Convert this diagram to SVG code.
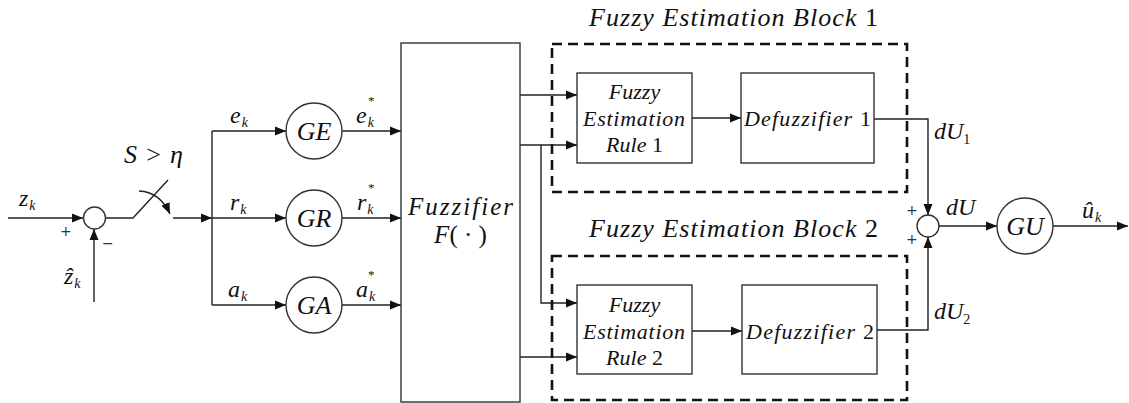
<svg xmlns="http://www.w3.org/2000/svg" width="1129" height="403" viewBox="0 0 1129 403">
<defs>
<marker id="ar" markerUnits="userSpaceOnUse" markerWidth="12" markerHeight="10" refX="11" refY="5" orient="auto">
<path d="M0,0.5 L11,5 L0,9.5 z" fill="#111"/>
</marker>
</defs>
<style>
.ln{fill:none;stroke:#222;stroke-width:1.4}
.bx{fill:#fff;stroke:#333;stroke-width:1.4}
.ds{fill:none;stroke:#111;stroke-width:2.6;stroke-dasharray:10,6}
.t{font-family:"Liberation Serif",serif;font-style:italic;fill:#111}
.u{font-style:normal}
.sub{font-size:14px}
.pm{font-family:"DejaVu Sans",sans-serif;font-size:14px;fill:#333}
</style>
<rect width="1129" height="403" fill="#fff"/>

<g id="connectors">
<path class="ln" d="M8,218 H83" marker-end="url(#ar)"/>
<path class="ln" d="M94,302 V229" marker-end="url(#ar)"/>
<path class="ln" d="M106,218 H133 L168,180"/>
<path class="ln" d="M139,191 Q160,192 170,214" marker-end="url(#ar)"/>
<path class="ln" d="M173,218 H212" marker-end="url(#ar)"/>
<path class="ln" d="M212,131 V305"/>
<path class="ln" d="M212,131 H286" marker-end="url(#ar)"/>
<path class="ln" d="M212,218 H286" marker-end="url(#ar)"/>
<path class="ln" d="M212,305 H286" marker-end="url(#ar)"/>
<path class="ln" d="M342,131 H401" marker-end="url(#ar)"/>
<path class="ln" d="M342,218 H401" marker-end="url(#ar)"/>
<path class="ln" d="M342,305 H401" marker-end="url(#ar)"/>
<path class="ln" d="M520,95 H577" marker-end="url(#ar)"/>
<path class="ln" d="M520,145 H577" marker-end="url(#ar)"/>
<path class="ln" d="M541,145 V303 H577" marker-end="url(#ar)"/>
<path class="ln" d="M520,357 H577" marker-end="url(#ar)"/>
<path class="ln" d="M692,118 H741" marker-end="url(#ar)"/>
<path class="ln" d="M692,331 H742" marker-end="url(#ar)"/>
<path class="ln" d="M874,119 H928 V215" marker-end="url(#ar)"/>
<path class="ln" d="M877,330 H928 V237" marker-end="url(#ar)"/>
<path class="ln" d="M939,226 H997" marker-end="url(#ar)"/>
<path class="ln" d="M1053,226 H1128" marker-end="url(#ar)"/>
</g>

<g id="sum1">
<circle class="bx" cx="94.5" cy="218" r="11"/>
<text class="pm" x="60" y="236">+</text>
<text class="pm" x="102" y="248">−</text>
</g>

<g id="labels-left">
<text class="t" x="19" y="206" font-size="24">z<tspan class="sub" dx="1" dy="4">k</tspan></text>
<text class="t" x="64" y="284" font-size="24">ẑ<tspan class="sub" dx="1" dy="4">k</tspan></text>
<text class="t" x="124" y="163" font-size="26" textLength="59" lengthAdjust="spacing">S <tspan class="u">&gt;</tspan> η</text>
</g>

<g id="GE">
<circle class="bx" cx="314" cy="131" r="28"/>
<text class="t" x="314" y="140" font-size="26" text-anchor="middle">GE</text>
<text class="t" x="230" y="123" font-size="24">e<tspan class="sub" dx="1" dy="4">k</tspan></text>
<text class="t" x="356" y="123" font-size="24">e<tspan class="sub" dx="1" dy="4">k</tspan></text>
<text class="t u" x="368" y="105" font-size="13">*</text>
</g>
<g id="GR">
<circle class="bx" cx="314" cy="218" r="28"/>
<text class="t" x="314" y="227" font-size="26" text-anchor="middle">GR</text>
<text class="t" x="230" y="210" font-size="24">r<tspan class="sub" dx="1" dy="4">k</tspan></text>
<text class="t" x="357" y="210" font-size="24">r<tspan class="sub" dx="1" dy="4">k</tspan></text>
<text class="t u" x="368" y="192" font-size="13">*</text>
</g>
<g id="GA">
<circle class="bx" cx="314" cy="305" r="28"/>
<text class="t" x="314" y="314" font-size="26" text-anchor="middle">GA</text>
<text class="t" x="228" y="297" font-size="24">a<tspan class="sub" dx="1" dy="4">k</tspan></text>
<text class="t" x="356" y="297" font-size="24">a<tspan class="sub" dx="1" dy="4">k</tspan></text>
<text class="t u" x="368" y="279" font-size="13">*</text>
</g>

<g id="fuzzifier">
<rect class="bx" x="401" y="43" width="119" height="359"/>
<text class="t" x="408" y="215" font-size="25" textLength="105" lengthAdjust="spacing">Fuzzifier</text>
<text class="t" x="460.5" y="243" font-size="25" text-anchor="middle">F<tspan class="u">( · )</tspan></text>
</g>

<g id="block1">
<text class="t" x="589" y="26" font-size="26" textLength="289" lengthAdjust="spacing">Fuzzy Estimation Block <tspan class="u">1</tspan></text>
<rect class="ds" x="552" y="44" width="355" height="148"/>
</g>
<g id="rule1">
<rect class="bx" x="577" y="73" width="115" height="90"/>
<text class="t" x="634.5" y="99" font-size="22" text-anchor="middle">Fuzzy</text>
<text class="t" x="583" y="126" font-size="22" textLength="102" lengthAdjust="spacing">Estimation</text>
<text class="t" x="634.5" y="152" font-size="22" text-anchor="middle">Rule <tspan class="u">1</tspan></text>
</g>
<g id="defuzz1">
<rect class="bx" x="741" y="73" width="133" height="90"/>
<text class="t" x="744" y="126" font-size="22" textLength="127" lengthAdjust="spacing">Defuzzifier <tspan class="u">1</tspan></text>
</g>

<g id="block2">
<text class="t" x="589" y="237" font-size="26" textLength="289" lengthAdjust="spacing">Fuzzy Estimation Block <tspan class="u">2</tspan></text>
<rect class="ds" x="552" y="256" width="355" height="144"/>
</g>
<g id="rule2">
<rect class="bx" x="577" y="285" width="115" height="89"/>
<text class="t" x="634.5" y="312" font-size="22" text-anchor="middle">Fuzzy</text>
<text class="t" x="583" y="339" font-size="22" textLength="102" lengthAdjust="spacing">Estimation</text>
<text class="t" x="634.5" y="365" font-size="22" text-anchor="middle">Rule <tspan class="u">2</tspan></text>
</g>
<g id="defuzz2">
<rect class="bx" x="742" y="285" width="135" height="89"/>
<text class="t" x="746" y="339" font-size="22" textLength="128" lengthAdjust="spacing">Defuzzifier <tspan class="u">2</tspan></text>
</g>

<g id="sum2">
<circle class="bx" cx="928" cy="226" r="11"/>
<text class="pm" x="906" y="215">+</text>
<text class="pm" x="906" y="244">+</text>
<text class="t" x="934" y="139" font-size="24">dU<tspan class="sub u" dx="0" dy="5">1</tspan></text>
<text class="t" x="934" y="319" font-size="24">dU<tspan class="sub u" dx="0" dy="5">2</tspan></text>
<text class="t" x="946" y="215" font-size="24">dU</text>
</g>

<g id="GU">
<circle class="bx" cx="1025" cy="226" r="28"/>
<text class="t" x="1025" y="235" font-size="26" text-anchor="middle">GU</text>
<text class="t" x="1082" y="218" font-size="24">û<tspan class="sub" dx="1" dy="4">k</tspan></text>
</g>
</svg>
